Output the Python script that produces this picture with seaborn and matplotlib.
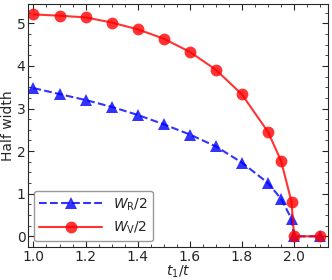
import numpy as np
import pandas as pd
import seaborn as sns
import matplotlib.pyplot as plt
from matplotlib.ticker import MultipleLocator

t1 = [1.0, 1.1, 1.2, 1.3, 1.4, 1.5, 1.6, 1.7, 1.8, 1.9, 1.95, 1.99, 2.0, 2.1]
w_r = [3.48, 3.34, 3.20, 3.04, 2.85, 2.63, 2.39, 2.11, 1.73, 1.25, 0.88, 0.41, 0.0, 0.0]
w_v = [5.21, 5.18, 5.14, 5.02, 4.86, 4.64, 4.33, 3.91, 3.33, 2.45, 1.77, 0.81, 0.0, 0.0]

df = pd.DataFrame({"t1": t1, "WR": w_r, "WV": w_v})

sns.set_style("ticks")
plt.rcParams['font.family'] = ['DejaVu Sans']
plt.rcParams['xtick.direction'] = 'in'
plt.rcParams['ytick.direction'] = 'in'

fig, ax = plt.subplots(figsize=(3.32, 2.8), dpi=100)

sns.lineplot(data=df, x="t1", y="WR", ax=ax, color="blue", linestyle="--", marker="^",
             markersize=8, markeredgewidth=0, alpha=0.8, label=r"$W_\mathrm{R}/2$")
sns.lineplot(data=df, x="t1", y="WV", ax=ax, color="red", linestyle="-", marker="o",
             markersize=8.5, markeredgewidth=0, alpha=0.8, label=r"$W_\mathrm{V}/2$")

ax.set_xlim(0.98, 2.13)
ax.set_ylim(-0.25, 5.45)
ax.xaxis.set_major_locator(MultipleLocator(0.2))
ax.xaxis.set_minor_locator(MultipleLocator(0.05))
ax.yaxis.set_major_locator(MultipleLocator(1))
ax.yaxis.set_minor_locator(MultipleLocator(0.25))
ax.tick_params(which='both', top=True, right=True, direction='in', labelsize=10, pad=2)
ax.tick_params(which='major', length=4)
ax.tick_params(which='minor', length=2)

ax.set_xlabel(r"$t_1/t$", fontsize=10, labelpad=0)
ax.set_ylabel("Half width", fontsize=10, labelpad=1)
ax.legend(loc='lower left', fontsize=10, frameon=True, edgecolor='gray', handlelength=4.5,
          borderaxespad=0.4)

plt.subplots_adjust(left=0.085, right=0.988, top=0.985, bottom=0.118)
plt.savefig("out.png", dpi=100)
